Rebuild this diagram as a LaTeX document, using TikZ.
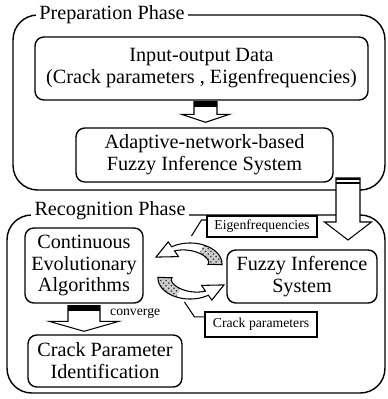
\documentclass[tikz,border=0pt]{standalone}
\usepackage{fontspec}
\setmainfont{Liberation Serif}
\usetikzlibrary{calc,patterns}

\tikzset{
  phasebox/.style={draw, line width=0.8pt, rounded corners=14pt},
  phasetitle/.style={fill=white, inner sep=2pt, font=\fontsize{11.5}{12.5}\selectfont},
  stagebox/.style={draw, line width=0.8pt, rounded corners=5pt, fill=white, align=center, inner sep=0pt, font=\fontsize{11.5}{12.5}\selectfont},
  tagbox/.style={draw, line width=0.6pt, fill=white, inner sep=0pt, font=\fontsize{7.8}{9}\selectfont}
}

% hollow block arrow: top point, tip point, shaft half width, head half width, head height
\newcommand{\blockarrow}[5]{%
  \draw[line width=0.6pt, fill=white] ($(#1)+(-#3,0)$) -- ($(#1 |- #2)+(-#3,-#5)$) -- ($(#1 |- #2)+(-#4,-#5)$)
    -- (#1 |- #2) -- ($(#1 |- #2)+(#4,-#5)$) -- ($(#1 |- #2)+(#3,-#5)$) -- ($(#1)+(#3,0)$) -- cycle;}

% curved arrow of the loop, dotted at its tail
\newcommand{\cyclearrow}{%
  \fill[black!20]
    plot[domain=-2:65, samples=30] ({190+32*cos(\x)},{264-21*sin(\x)})
    -- plot[domain=65:-2, samples=30] ({190+(18+9*(\x+2)/127)*cos(\x)},{264-(7+9*(\x+2)/127)*sin(\x)}) -- cycle;
  \fill[pattern=crosshatch dots, pattern color=black!80]
    plot[domain=-2:65, samples=30] ({190+32*cos(\x)},{264-21*sin(\x)})
    -- plot[domain=65:-2, samples=30] ({190+(18+9*(\x+2)/127)*cos(\x)},{264-(7+9*(\x+2)/127)*sin(\x)}) -- cycle;
  \draw[line width=0.6pt] plot[domain=-2:125, samples=40] ({190+32*cos(\x)},{264-21*sin(\x)})
    -- (168.2,241.9) -- (156,257.1) -- (178.5,256.6)
    -- plot[domain=125:-2, samples=40] ({190+(18+9*(\x+2)/127)*cos(\x)},{264-(7+9*(\x+2)/127)*sin(\x)}) -- cycle;}

\begin{document}
\begin{tikzpicture}[x=0.02cm, y=-0.02cm]
\useasboundingbox (0,0) rectangle (387,399);

% phase frames
\node[phasebox, minimum width=7.44cm, minimum height=3.5cm] (prep) at (199,102.5) {};
\node[phasebox, minimum width=7.56cm, minimum height=3.56cm] (recog) at (196,304) {};
\node[phasetitle] (preptitle) at (112,15) {Preparation Phase};
\node[phasetitle] (recogtitle) at (110,211) {Recognition Phase};

% hand-over from one phase to the next
\coordinate (handtop) at (348,178);
\coordinate (handtip) at (348,240);
\blockarrow{handtop}{handtip}{12}{23.5}{18}
\fill (336,178) rectangle (360,180);
\fill (336,182) rectangle (360,184);

% stages
\node[stagebox, minimum width=6.66cm, minimum height=1.26cm] (iodata) at (201.5,68.5) {Input-output Data\\(Crack parameters , Eigenfrequencies)};
\node[stagebox, minimum width=5.14cm, minimum height=1.08cm] (anfis) at (204.5,155) {Adaptive-network-based\\Fuzzy Inference System};
\node[stagebox, minimum width=2.36cm, minimum height=1.5cm] (cea) at (84,265.5) {Continuous\\Evolutionary\\Algorithms};
\node[stagebox, minimum width=3.0cm, minimum height=1.06cm] (fis) at (302,276.5) {Fuzzy Inference\\System};
\node[stagebox, minimum width=3.08cm, minimum height=1.04cm] (cpi) at (105,361) {Crack Parameter\\Identification};

% training arrow
\coordinate (traintop) at ($(iodata.south)+(4,1)$);
\coordinate (traintip) at ($(anfis.north)+(1,-5)$);
\blockarrow{traintop}{traintip}{11.5}{24}{8}
\fill ($(traintop)+(-11.5,0)$) rectangle ($(traintop)+(11.5,5)$);

% convergence arrow
\coordinate (convtop) at ($(cea.south)+(0,2)$);
\coordinate (convtip) at ($(cpi.north)+(0,-3)$);
\blockarrow{convtop}{convtip}{16}{35}{10}
\fill ($(convtop)+(-16,0)$) rectangle ($(convtop)+(16,5)$);
\node[font=\fontsize{7.8}{9}\selectfont, anchor=west] (convlabel) at (104,313) {converge};

% loop between the algorithms and the fuzzy system
\cyclearrow
\begin{scope}[rotate around={180:(190,271)}]
  \cyclearrow
\end{scope}

% exchanged quantities
\node[tagbox, minimum width=2.2cm, minimum height=0.42cm] (eigtag) at (262,226.5) {Eigenfrequencies};
\node[tagbox, minimum width=2.24cm, minimum height=0.5cm] (cracktag) at (261,324.5) {Crack parameters};
\draw[line width=0.6pt] ([yshift=3.7pt]eigtag.west) -- ++(-5,0) -- ++(-10,16);
\draw[line width=0.6pt] ([yshift=4.3pt]cracktag.west) -- ++(-10,0) -- ++(-10,-15);
\end{tikzpicture}
\end{document}
